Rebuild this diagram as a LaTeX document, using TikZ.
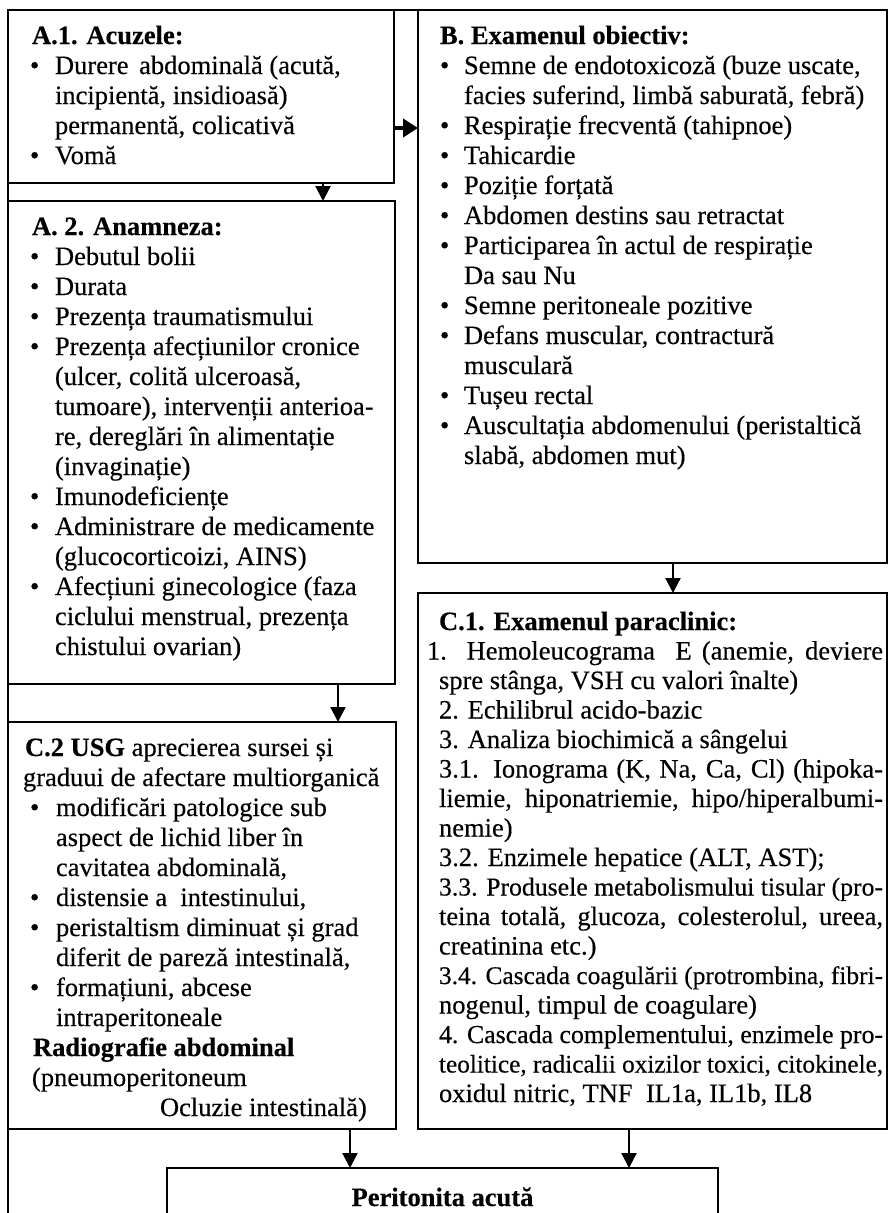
\documentclass[tikz,border=0pt]{standalone}
\usepackage{fontspec}
\setmainfont{Liberation Serif}[UprightFeatures={FakeBold=0.35},BoldFeatures={FakeBold=0.35}]
\usetikzlibrary{arrows.meta}
\newdimen\bulw
\newcommand\Ln[1]{\hbox{#1}}
\newcommand\Bu[1]{\hbox{\hbox to\bulw{\textbullet\hss}#1}}
\newcommand\Co[1]{\hbox{\hskip\bulw #1}}
\newcommand\Jl[1]{\setbox0\hbox{#1}\ifdim\wd0>\hsize\hbox{\resizebox{\hsize}{!}{\box0}}\else\hbox to\hsize{#1}\fi}
\newcommand\F{\fontsize{26.5}{30}\selectfont\baselineskip=30pt\lineskiplimit=-100pt\lineskip=0pt}
\tikzset{
  box/.style={draw, line width=2.8pt, anchor=north west, inner sep=0pt, outer sep=0pt},
  txt/.style={anchor=base west, inner sep=0pt, outer sep=0pt},
  arr/.style={line width=2.2pt, -{Triangle[length=15pt,width=15pt]}},
  arrh/.style={line width=4.5pt, -{Triangle[length=15pt,width=18pt]}},
  frame/.style={line width=2.8pt}
}
\begin{document}
\begin{tikzpicture}[x=1pt,y=-1pt]
\useasboundingbox (0,0) rectangle (893,1213);
\clip (0,0) rectangle (893,1213);
% boxes
\node[box, minimum width=386pt, minimum height=173pt] (a1) at (8,10) {};
\node[box, minimum width=469pt, minimum height=553pt] (b) at (418,10) {};
\node[box, minimum width=387pt, minimum height=483pt] (a2) at (8,201) {};
\node[box, minimum width=469pt, minimum height=536pt] (c1) at (418,593) {};
\node[box, minimum width=388pt, minimum height=407pt] (c2) at (8,722) {};
\node[box, minimum width=551pt, minimum height=100pt] (p) at (167,1168) {};
% outer frame
\coordinate (ftl) at (8,10);
\coordinate (ftr) at (887,10);
\coordinate (fbl) at (8,1240);
\draw[frame] (ftr) -- (ftl) -- (fbl);
% texts
\node[txt] (a1t) at (30,44) {\vtop{\F\bulw=25pt
\Ln{\hskip2pt\textbf{A.1. Acuzele:}}
\Bu{Durere\hskip4pt\ abdominală (acută,}
\Co{incipientă, insidioasă)}
\Co{permanentă, colicativă}
\Bu{Vomă}}};
\node[txt] (bt) at (440,44) {\vtop{\F\bulw=24pt
\Ln{\textbf{B. Examenul obiectiv:}}
\Bu{Semne de endotoxicoză (buze uscate,}
\Co{facies suferind, limbă saburată, febră)}
\Bu{Respirație frecventă (tahipnoe)}
\Bu{Tahicardie}
\Bu{Poziție forțată}
\Bu{Abdomen destins sau retractat}
\Bu{Participarea în actul de respirație}
\Co{Da sau Nu}
\Bu{Semne peritoneale pozitive}
\Bu{Defans muscular, contractură}
\Co{musculară}
\Bu{Tușeu rectal}
\Bu{Auscultația abdomenului (peristaltică}
\Co{slabă, abdomen mut)}}};
\node[txt] (a2t) at (30,235) {\vtop{\F\bulw=25pt
\Ln{\hskip2pt\textbf{A. 2. Anamneza:}}
\Bu{Debutul bolii}
\Bu{Durata}
\Bu{Prezența traumatismului}
\Bu{Prezența afecțiunilor cronice}
\Co{(ulcer, colită ulceroasă,}
\Co{tumoare), intervenții anterioa-}
\Co{re, dereglări în alimentație}
\Co{(invaginație)}
\Bu{Imunodeficiențe}
\Bu{Administrare de medicamente}
\Co{(glucocorticoizi, AINS)}
\Bu{Afecțiuni ginecologice (faza}
\Co{ciclului menstrual, prezența}
\Co{chistului ovarian)}}};
\node[txt] (c1t) at (439,630) {\vtop{\F\hsize=444pt\baselineskip=29.5pt
\Ln{\textbf{C.1. Examenul paraclinic:}}
\Jl{\hskip-12pt 1. Hemoleucograma\ \ E (anemie, deviere}
\Ln{spre stânga, VSH cu valori înalte)}
\Ln{2. Echilibrul acido-bazic}
\Ln{3. Analiza biochimică a sângelui}
\Jl{3.1. Ionograma (K, Na, Ca, Cl) (hipoka-}
\Jl{liemie, hiponatriemie, hipo/hiperalbumi-}
\Ln{nemie)}
\Ln{3.2. Enzimele hepatice (ALT, AST);}
\Jl{3.3. Produsele metabolismului tisular (pro-}
\Jl{teina totală, glucoza, colesterolul, ureea,}
\Ln{creatinina etc.)}
\Jl{3.4. Cascada coagulării (protrombina, fibri-}
\Ln{nogenul, timpul de coagulare)}
\Jl{4. Cascada complementului, enzimele pro-}
\Jl{teolitice, radicalii oxizilor toxici, citokinele,}
\Ln{oxidul nitric, TNF\ \ IL1a, IL1b, IL8}}};
\node[txt] (c2t) at (30,756) {\vtop{\F\bulw=26pt
\Ln{\hskip-5pt\textbf{C.2 USG} aprecierea sursei și}
\Ln{\hskip-7pt graduui de afectare multiorganică}
\Bu{modificări patologice sub}
\Co{aspect de lichid liber în}
\Co{cavitatea abdominală,}
\Bu{distensie a\ \ intestinului,}
\Bu{peristaltism diminuat și grad}
\Co{diferit de pareză intestinală,}
\Bu{formațiuni, abcese}
\Co{intraperitoneale}
\Ln{\hskip3pt\textbf{Radiografie abdominal}}
\Ln{\hskip2pt(pneumoperitoneum}
\Ln{\hskip130pt Ocluzie intestinală)}}};
\node[anchor=base, inner sep=0pt] (pt) at (442.5,1206) {\F\textbf{Peritonita acută}};
% connectors
\coordinate (h1) at (0,128);
\coordinate (v1) at (323,0);
\coordinate (v2) at (338,0);
\coordinate (v3) at (673,0);
\coordinate (v4) at (350,0);
\coordinate (v5) at (629,0);
\draw[arrh] (a1.east |- h1) -- (b.west |- h1);
\draw[arr] (a1.south -| v1) -- (a2.north -| v1);
\draw[arr] (a2.south -| v2) -- (c2.north -| v2);
\draw[arr] (b.south -| v3) -- (c1.north -| v3);
\draw[arr] (c2.south -| v4) -- (p.north -| v4);
\draw[arr] (c1.south -| v5) -- (p.north -| v5);
\end{tikzpicture}
\end{document}
